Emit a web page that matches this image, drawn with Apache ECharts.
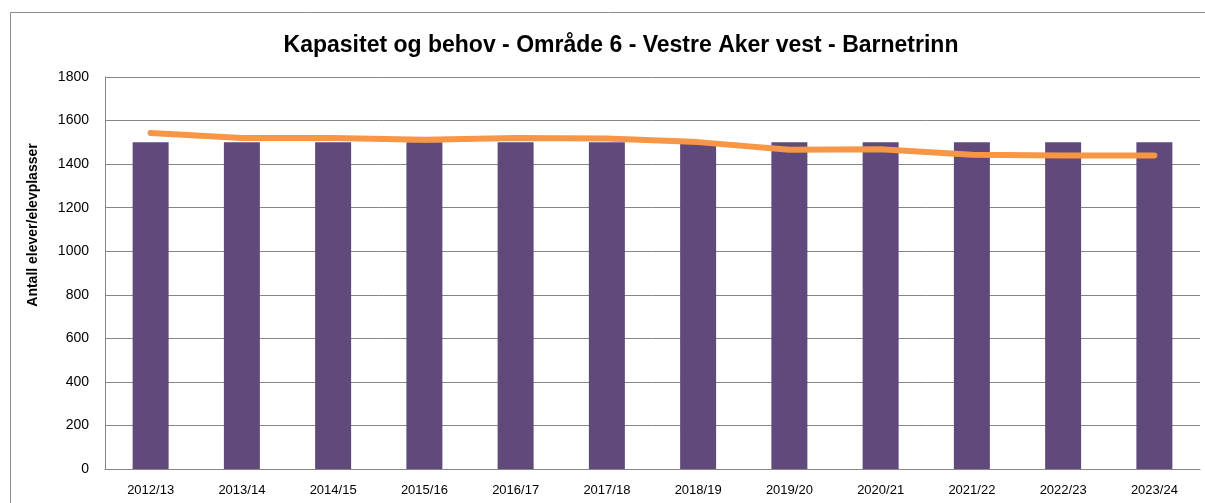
<!DOCTYPE html>
<html>
<head>
<meta charset="utf-8">
<script src="https://cdn.jsdelivr.net/npm/echarts@6/dist/echarts.min.js"></script>
<style>
  html, body { margin: 0; padding: 0; background: #fff; }
  #chart { width: 1205px; height: 503px; }
</style>
</head>
<body>
<div id="chart"></div>
<script>
  // data
  var years = ['2012/13', '2013/14', '2014/15', '2015/16', '2016/17', '2017/18',
               '2018/19', '2019/20', '2020/21', '2021/22', '2022/23', '2023/24'];
  var kapasitet = [1500, 1500, 1500, 1500, 1500, 1500, 1500, 1500, 1500, 1500, 1500, 1500];
  var behov = [1543, 1520, 1520, 1512, 1520, 1518, 1501, 1466, 1468, 1443, 1440, 1440];
  var yTicks = { min: 0, max: 1800, interval: 200 };

  var chartDom = document.getElementById('chart');
  var myChart = echarts.init(chartDom);
  var font = 'Liberation Sans, Arial, sans-serif';
  var option = {
    animation: false,
    graphic: [{
      type: 'rect',
      shape: { x: 10.5, y: 12.5, width: 1400, height: 700 },
      style: { fill: 'none', stroke: '#8c8c8c', lineWidth: 1 }
    }],
    title: {
      text: 'Kapasitet og behov - Område 6 - Vestre Aker vest - Barnetrinn',
      left: 616,
      textAlign: 'center',
      top: 29,
      textStyle: { fontFamily: font, fontWeight: 'bold', fontSize: 23, color: '#000' }
    },
    grid: { left: 105, right: 5, top: 77, bottom: 34 },
    xAxis: {
      type: 'category',
      data: years,
      axisLine: { lineStyle: { color: '#868686' } },
      axisTick: { show: false },
      axisLabel: { color: '#000', fontFamily: font, fontSize: 13, margin: 15 }
    },
    yAxis: {
      type: 'value',
      min: yTicks.min,
      max: yTicks.max,
      interval: yTicks.interval,
      name: 'Antall elever/elevplasser',
      nameLocation: 'middle',
      nameGap: 65,
      nameTextStyle: { fontFamily: font, fontWeight: 'bold', fontSize: 14, color: '#000', padding: [0, 0, 0, 96] },
      axisLine: { show: true, lineStyle: { color: '#868686' } },
      axisTick: { show: false },
      splitLine: { lineStyle: { color: '#868686' } },
      axisLabel: {
        color: '#000', fontFamily: font, fontSize: 14, margin: 16,
        formatter: function (v) { return String(v); }
      }
    },
    series: [
      {
        name: 'Kapasitet',
        type: 'bar',
        data: kapasitet,
        barWidth: 36,
        itemStyle: { color: '#604A7B' }
      },
      {
        name: 'Behov',
        type: 'line',
        data: behov,
        showSymbol: false,
        symbol: 'none',
        lineStyle: { color: '#F79646', width: 6, cap: 'round', join: 'round' },
        itemStyle: { color: '#F79646' }
      }
    ]
  };
  option && myChart.setOption(option);
</script>
</body>
</html>
